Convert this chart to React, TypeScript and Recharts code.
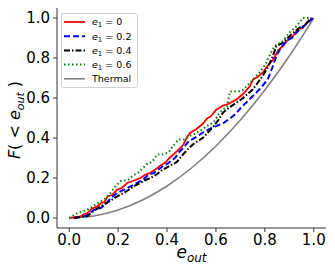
import React from 'react';
import { LineChart, Line, XAxis, YAxis, Legend } from 'recharts';

const ticks = [0, 0.2, 0.4, 0.6, 0.8, 1.0];

const e0x = [0, 0.03, 0.047, 0.06, 0.075, 0.09, 0.115, 0.13, 0.145, 0.156, 0.175, 0.196, 0.215, 0.237, 0.26, 0.291, 0.312, 0.33, 0.352, 0.37, 0.393, 0.41, 0.434, 0.45, 0.467, 0.48, 0.494, 0.52, 0.545, 0.563, 0.58, 0.6, 0.629, 0.65, 0.685, 0.71, 0.738, 0.752, 0.77, 0.792, 0.81, 0.833, 0.855, 0.874, 0.9, 0.915, 0.935, 0.955, 0.975, 0.996];
const e0y = [0, 0.005, 0.008, 0.02, 0.025, 0.045, 0.058, 0.075, 0.08, 0.108, 0.115, 0.142, 0.15, 0.175, 0.185, 0.2, 0.217, 0.225, 0.242, 0.26, 0.277, 0.3, 0.327, 0.345, 0.367, 0.4, 0.425, 0.445, 0.47, 0.497, 0.51, 0.54, 0.562, 0.57, 0.593, 0.62, 0.658, 0.693, 0.705, 0.728, 0.76, 0.79, 0.84, 0.86, 0.9, 0.91, 0.945, 0.95, 0.98, 1.0];

const e2x = [0.02, 0.06, 0.08, 0.1, 0.129, 0.15, 0.17, 0.196, 0.23, 0.264, 0.3, 0.325, 0.346, 0.38, 0.4, 0.434, 0.45, 0.467, 0.49, 0.52, 0.55, 0.589, 0.603, 0.63, 0.657, 0.68, 0.71, 0.735, 0.766, 0.79, 0.812, 0.83, 0.847, 0.865, 0.888, 0.91, 0.942, 0.97, 0.996];
const e2y = [0, 0.008, 0.02, 0.04, 0.05, 0.07, 0.1, 0.125, 0.145, 0.167, 0.19, 0.217, 0.225, 0.257, 0.27, 0.302, 0.33, 0.352, 0.385, 0.405, 0.43, 0.455, 0.46, 0.475, 0.497, 0.52, 0.562, 0.59, 0.628, 0.66, 0.693, 0.75, 0.81, 0.85, 0.885, 0.9, 0.943, 0.97, 1.0];

const e4x = [0.02, 0.075, 0.1, 0.129, 0.16, 0.196, 0.23, 0.264, 0.312, 0.332, 0.36, 0.38, 0.41, 0.44, 0.467, 0.49, 0.508, 0.548, 0.589, 0.61, 0.629, 0.657, 0.685, 0.711, 0.75, 0.79, 0.81, 0.83, 0.847, 0.865, 0.888, 0.91, 0.942, 0.96, 0.989];
const e4y = [0, 0.01, 0.035, 0.058, 0.08, 0.108, 0.13, 0.159, 0.19, 0.2, 0.22, 0.24, 0.26, 0.28, 0.32, 0.35, 0.37, 0.402, 0.457, 0.49, 0.527, 0.555, 0.577, 0.6, 0.642, 0.708, 0.75, 0.8, 0.86, 0.87, 0.893, 0.92, 0.952, 0.96, 1.0];

const e6x = [0, 0.02, 0.034, 0.06, 0.088, 0.11, 0.129, 0.15, 0.169, 0.19, 0.21, 0.24, 0.264, 0.283, 0.318, 0.34, 0.359, 0.38, 0.405, 0.425, 0.446, 0.47, 0.49, 0.508, 0.54, 0.562, 0.589, 0.617, 0.645, 0.657, 0.698, 0.71, 0.752, 0.78, 0.806, 0.83, 0.847, 0.87, 0.901, 0.93, 0.955, 0.99];
const e6y = [0, 0.015, 0.025, 0.035, 0.05, 0.07, 0.083, 0.1, 0.125, 0.16, 0.184, 0.19, 0.215, 0.227, 0.27, 0.282, 0.317, 0.317, 0.327, 0.36, 0.392, 0.392, 0.41, 0.417, 0.44, 0.459, 0.477, 0.53, 0.557, 0.632, 0.634, 0.64, 0.693, 0.73, 0.776, 0.84, 0.868, 0.88, 0.927, 0.96, 1.0, 1.0];

const thx = [0, 0.1, 0.2, 0.3, 0.4, 0.5, 0.6, 0.7, 0.8, 0.9, 1.0];
const thy = [0, 0.01, 0.04, 0.09, 0.16, 0.25, 0.36, 0.49, 0.64, 0.81, 1.0];

const zip = (xs: number[], ys: number[]) => xs.map((x, i) => ({ x, y: ys[i] }));

const series = [
  { key: 'e0', label: '0', data: zip(e0x, e0y), color: '#ff0000', dash: undefined as string | undefined, width: 1.8 },
  { key: 'e2', label: '0.2', data: zip(e2x, e2y), color: '#0000ff', dash: '6 3', width: 2 },
  { key: 'e4', label: '0.4', data: zip(e4x, e4y), color: '#000000', dash: '6 2 1.5 2', width: 2 },
  { key: 'e6', label: '0.6', data: zip(e6x, e6y), color: '#008000', dash: '1.5 2.5', width: 2 },
];
const thermal = { key: 'th', data: zip(thx, thy), color: '#808080', width: 1.6 };

const FONT = '"DejaVu Sans", sans-serif';

const LegendBox = () => {
  const rows = [
    ...series.map((s) => ({ color: s.color, dash: s.dash, width: s.width, sub: true, label: s.label })),
    { color: thermal.color, dash: undefined as string | undefined, width: thermal.width, sub: false, label: 'Thermal' },
  ];
  return (
    <svg width={77} height={75} style={{ display: 'block' }}>
      <rect x={0.5} y={0.5} width={76} height={74} rx={2} fill="#fff" stroke="#d0d0d0" />
      {rows.map((r, i) => {
        const cy = 9 + i * 14.2;
        return (
          <g key={i}>
            <line x1={3} y1={cy} x2={24} y2={cy} stroke={r.color} strokeWidth={r.width} strokeDasharray={r.dash} />
            <text x={31} y={cy + 3.4} fontFamily={FONT} fontSize={9.5} fill="#000">
              {r.sub ? (
                <>
                  <tspan fontStyle="italic">e</tspan>
                  <tspan fontSize={7} dy={2}>1</tspan>
                  <tspan dy={-2}>{' = ' + r.label}</tspan>
                </>
              ) : r.label}
            </text>
          </g>
        );
      })}
    </svg>
  );
};

const XLabel = (props: any) => {
  const vb = props.viewBox;
  return (
    <text x={vb.x + vb.width / 2} y={vb.y + 30} textAnchor="middle" fontFamily={FONT} fontSize={17} fill="#000">
      <tspan fontStyle="italic">e</tspan>
      <tspan fontSize={12} dy={4} fontStyle="italic">out</tspan>
    </text>
  );
};

const YLabel = (props: any) => {
  const vb = props.viewBox;
  const cx = vb.x + 20;
  const cy = vb.y + vb.height / 2 + 2;
  return (
    <text x={cx} y={cy} textAnchor="middle" transform={`rotate(-90 ${cx} ${cy})`} fontFamily={FONT} fontSize={16} fill="#000">
      <tspan fontStyle="italic">F</tspan>
      <tspan>(  &lt; </tspan>
      <tspan fontStyle="italic">e</tspan>
      <tspan fontSize={11} dy={4} fontStyle="italic">out</tspan>
      <tspan dy={-4}>  )</tspan>
    </text>
  );
};

export default function App() {
  const fmt = (v: number) => v.toFixed(1);
  const tickStyle = { fontFamily: FONT, fontSize: 15, fill: '#000' };
  return (
    <div style={{ position: 'absolute', left: 0, top: 0 }}>
      <LineChart width={335} height={274} margin={{ top: 8, right: 9, left: 0, bottom: 0 }}>
        <XAxis xAxisId="b" dataKey="x" type="number" domain={[-0.05, 1.05]} ticks={ticks} tickFormatter={fmt}
          allowDataOverflow height={46} tickSize={4} tick={tickStyle} stroke="#333" axisLine={{ stroke: '#333' }} tickLine={{ stroke: '#333' }}
          label={<XLabel />} />
        <XAxis xAxisId="t" orientation="top" type="number" domain={[-0.05, 1.05]} tick={false} tickLine={false} height={0} axisLine={{ stroke: '#333' }} />
        <YAxis yAxisId="l" type="number" domain={[-0.05, 1.05]} ticks={ticks} tickFormatter={fmt} allowDataOverflow width={57}
          tickSize={4} tickMargin={3} tick={tickStyle} axisLine={{ stroke: '#333' }} tickLine={{ stroke: '#333' }} label={<YLabel />} />
        <YAxis yAxisId="r" orientation="right" type="number" domain={[-0.05, 1.05]} tick={false} tickLine={false} width={0} axisLine={{ stroke: '#333' }} />
        <Line xAxisId="b" yAxisId="l" data={thermal.data} dataKey="y" type="monotone" stroke={thermal.color} strokeWidth={thermal.width} dot={false} isAnimationActive={false} />
        {series.map((s) => (
          <Line key={s.key} xAxisId="b" yAxisId="l" data={s.data} dataKey="y" type="linear" stroke={s.color}
            strokeWidth={s.width} strokeDasharray={s.dash} dot={false} isAnimationActive={false} />
        ))}
        <Legend layout="vertical" align="center" verticalAlign="middle" content={<LegendBox />}
          wrapperStyle={{ left: 61, top: 13, width: 77, height: 75 }} />
      </LineChart>
    </div>
  );
}
